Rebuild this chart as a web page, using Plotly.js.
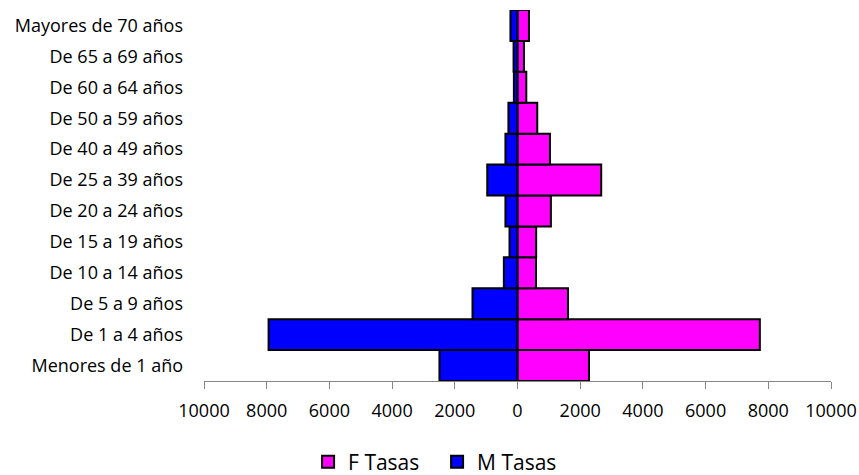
<!DOCTYPE html>
<html>
<head>
<meta charset="utf-8">
<script src="https://cdn.plot.ly/plotly-3.0.1.min.js"></script>
<style>html,body{margin:0;padding:0;background:#fff;}#chart{width:859px;height:475px;}</style>
</head>
<body>
<div id="chart"></div>
<script>
const categories = ["Menores de 1 año","De 1 a 4 años","De 5 a 9 años","De 10 a 14 años","De 15 a 19 años","De 20 a 24 años","De 25 a 39 años","De 40 a 49 años","De 50 a 59 años","De 60 a 64 años","De 65 a 69 años","Mayores de 70 años"];
const fTasas = [2280, 7730, 1610, 590, 595, 1065, 2670, 1035, 630, 280, 205, 365];
const mTasas = [2490, 7940, 1435, 435, 255, 385, 965, 385, 290, 115, 125, 225];
const tickVals = [-10000,-8000,-6000,-4000,-2000,0,2000,4000,6000,8000,10000];
const tickText = ["10000","8000","6000","4000","2000","0","2000","4000","6000","8000","10000"];

const fontFam = "'Open Sans', Lato, sans-serif";
const traces = [
  {type:'bar', orientation:'h', name:'F Tasas', y:categories, x:fTasas,
   marker:{color:'#ff00ff', line:{color:'#000', width:2}}, hoverinfo:'skip'},
  {type:'bar', orientation:'h', name:'M Tasas', y:categories, x:mTasas.map(v=>-v),
   marker:{color:'#0000ff', line:{color:'#000', width:2}}, hoverinfo:'skip'}
];
const layout = {
  width:859, height:475,
  margin:{l:204, r:28, t:10, b:94},
  barmode:'relative', bargap:0,
  paper_bgcolor:'#fff', plot_bgcolor:'#fff',
  font:{family:fontFam, size:18, color:'#000'},
  xaxis:{range:[-10000,10000], tickvals:tickVals, ticktext:tickText,
    showgrid:false, zeroline:false, showline:true, linecolor:'#868686', linewidth:1,
    ticks:'outside', ticklen:7, tickcolor:'#868686', ticklabelstandoff:6, tickfont:{size:18}},
  yaxis:{type:'category', categoryorder:'array', categoryarray:categories,
    showgrid:false, zeroline:false, showline:false, ticks:'', ticklabelstandoff:20,
    tickfont:{size:18}},
  showlegend:true,
  legend:{orientation:'h', xref:'paper', x:0.166, xanchor:'left', yref:'container', y:0.027, yanchor:'middle',
    font:{size:21}, traceorder:'normal', entrywidth:84, entrywidthmode:'pixels'}
};
Plotly.newPlot('chart', traces, layout, {staticPlot:true});
</script>
</body>
</html>
